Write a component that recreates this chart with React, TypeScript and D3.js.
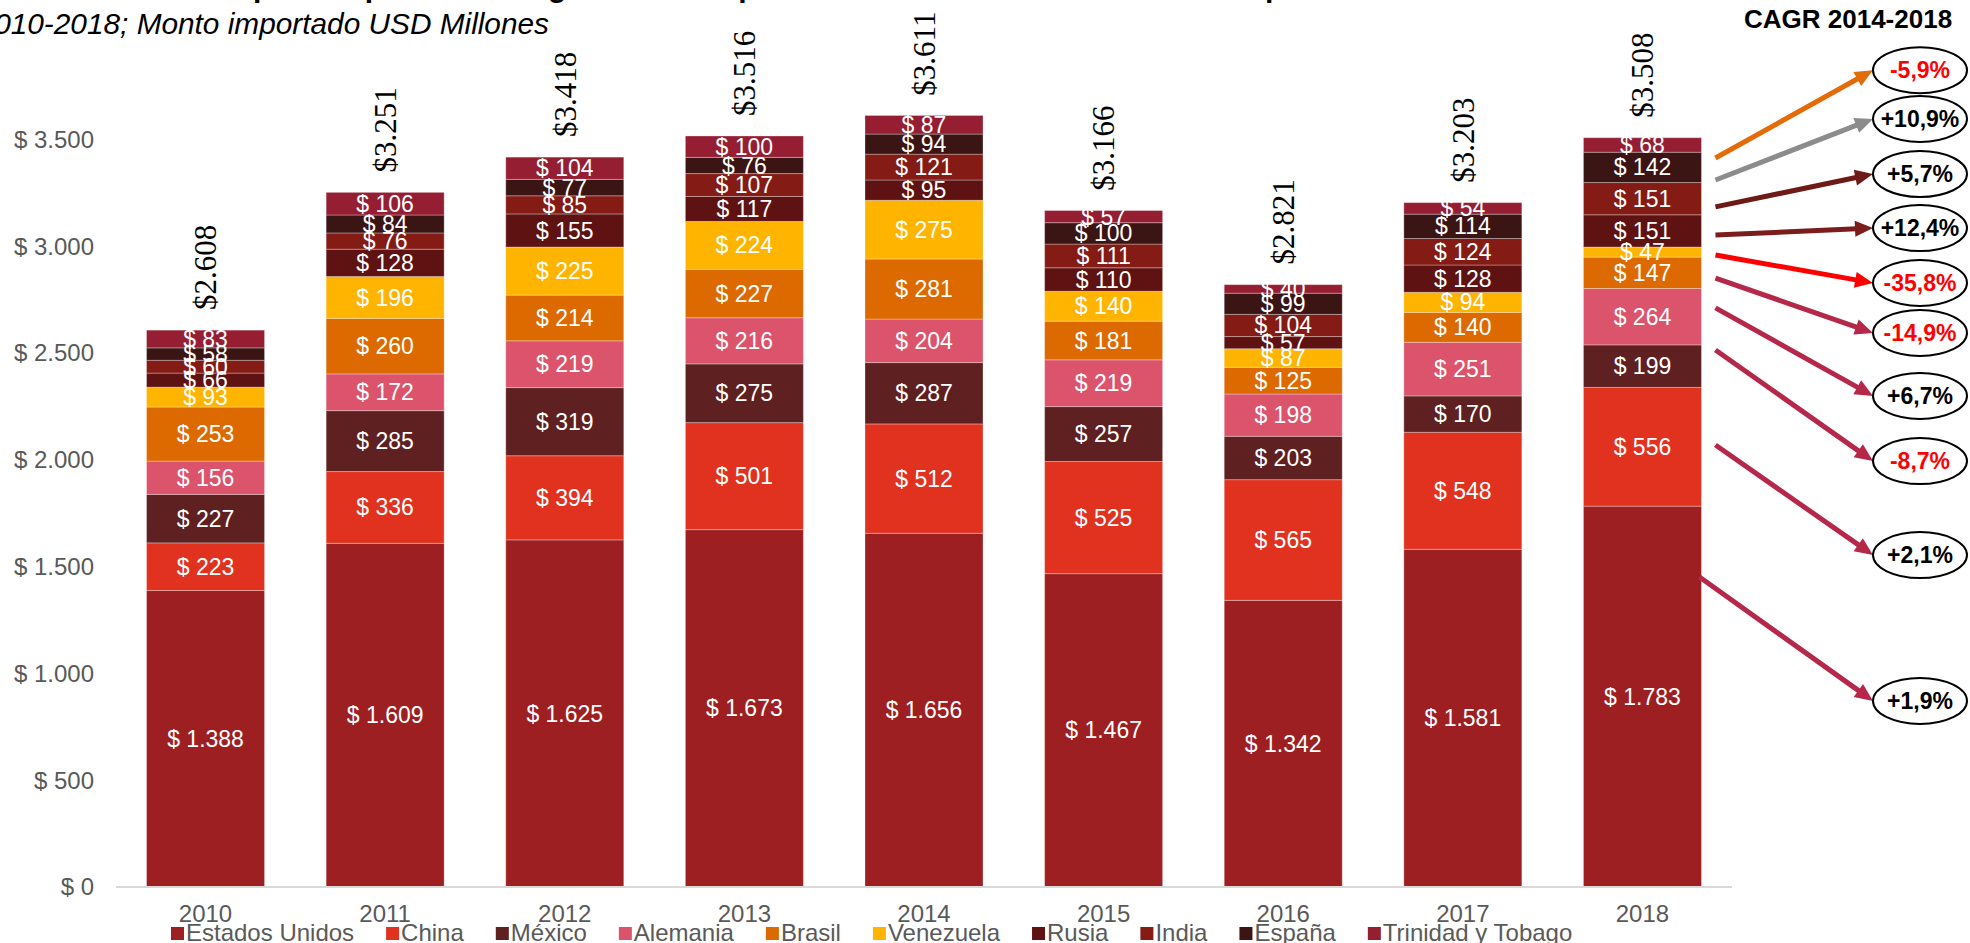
import { useEffect, useRef } from "react";
import * as d3 from "d3";

const years = ["2010", "2011", "2012", "2013", "2014", "2015", "2016", "2017", "2018"];
const countries = [
  "Estados Unidos",
  "China",
  "México",
  "Alemania",
  "Brasil",
  "Venezuela",
  "Rusia",
  "India",
  "España",
  "Trinidad y Tobago",
];

// monto importado, USD millones (de abajo hacia arriba en cada barra)
const estadosUnidos = [1388, 1609, 1625, 1673, 1656, 1467, 1342, 1581, 1783];
const china = [223, 336, 394, 501, 512, 525, 565, 548, 556];
const mexico = [227, 285, 319, 275, 287, 257, 203, 170, 199];
const alemania = [156, 172, 219, 216, 204, 219, 198, 251, 264];
const brasil = [253, 260, 214, 227, 281, 181, 125, 140, 147];
const venezuela = [93, 196, 225, 224, 275, 140, 87, 94, 47];
const rusia = [66, 128, 155, 117, 95, 110, 57, 128, 151];
const india = [60, 76, 85, 107, 121, 111, 104, 124, 151];
const espana = [58, 84, 77, 76, 94, 100, 99, 114, 142];
const trinidad = [83, 106, 104, 100, 87, 57, 40, 54, 68];
const totals = [2608, 3251, 3418, 3516, 3611, 3166, 2821, 3203, 3508];

const yTicks = [0, 500, 1000, 1500, 2000, 2500, 3000, 3500];

// CAGR 2014-2018, de arriba hacia abajo
const cagrLabels = ["-5,9%", "+10,9%", "+5,7%", "+12,4%", "-35,8%", "-14,9%", "+6,7%", "-8,7%", "+2,1%", "+1,9%"];
// where each arrow leaves the 2018 bar and where its bubble sits, in axis units
const cagrFrom = [3413, 3310, 3184, 3052, 2959, 2851, 2711, 2514, 2069, 1451];
const cagrTo = [3824, 3596, 3338, 3085, 2828, 2594, 2299, 1994, 1554, 871];
const cagrArrowColors = [
  "#E36C09", "#8C8C8C", "#6E1A16", "#7B1D1D", "#FF0000",
  "#B5284A", "#B5284A", "#B5284A", "#B5284A", "#B5284A",
];

const colors = [
  "#9E1F21", "#E0321F", "#5E2020", "#DB546C", "#DD6A00",
  "#FFB400", "#5E1212", "#841B15", "#3B1414", "#951E33",
];

const W = 1970;
const H = 943;

const App = () => {
  const ref = useRef<SVGSVGElement>(null);

  useEffect(() => {
    const svg = d3.select(ref.current);
    svg.selectAll("*").remove();

    const series = [estadosUnidos, china, mexico, alemania, brasil, venezuela, rusia, india, espana, trinidad];
    const rows = years.map((y, i) => {
      const r: any = { year: y };
      countries.forEach((c, k) => (r[c] = series[k][i]));
      return r;
    });

    const locale = d3.formatLocale({ decimal: ",", thousands: ".", grouping: [3], currency: ["$", ""] });
    const fmt = locale.format(",d");

    const x = d3.scaleBand().domain(years).range([116, 1732]).paddingInner(0.343).paddingOuter(0.17);
    const y = d3.scaleLinear().domain([0, 3500]).range([887, 139.4]);

    const stack = d3.stack<any>().keys(countries)(rows);

    // title (cut at the top of the slide)
    svg
      .append("text")
      .attr("x", 1370)
      .attr("y", -3)
      .attr("text-anchor", "end")
      .attr("font-size", 30)
      .attr("font-weight", "bold")
      .attr("fill", "#000")
      .text("Evolución del top 10 de países de origen de las importaciones de la cadena del sector químico");

    svg
      .append("text")
      .attr("x", 549)
      .attr("y", 34)
      .attr("text-anchor", "end")
      .attr("font-size", 29.8)
      .attr("font-style", "italic")
      .attr("fill", "#000")
      .text("2010-2018; Monto importado USD Millones");

    // y axis labels
    svg
      .append("g")
      .selectAll("text")
      .data(yTicks)
      .join("text")
      .attr("x", 94)
      .attr("y", (d) => y(d))
      .attr("dy", "0.35em")
      .attr("text-anchor", "end")
      .attr("font-size", 24)
      .attr("fill", "#595959")
      .text((d) => "$ " + fmt(d));

    // bars
    const layers = svg
      .append("g")
      .selectAll("g")
      .data(stack)
      .join("g")
      .attr("fill", (_d, i) => colors[i]);

    layers
      .selectAll("rect")
      .data((d) => d)
      .join("rect")
      .attr("x", (d) => x(d.data.year)!)
      .attr("width", x.bandwidth())
      .attr("y", (d) => y(d[1]))
      .attr("height", (d) => y(d[0]) - y(d[1]))
      .attr("stroke", "#ffffff")
      .attr("stroke-opacity", 0.3)
      .attr("stroke-width", 1);

    // value labels
    const labels = svg.append("g").attr("fill", "#ffffff").attr("font-size", 23).attr("text-anchor", "middle");
    stack.forEach((layer) => {
      layer.forEach((d) => {
        labels
          .append("text")
          .attr("x", x(d.data.year)! + x.bandwidth() / 2)
          .attr("y", (y(d[0]) + y(d[1])) / 2)
          .attr("dy", "0.35em")
          .text("$ " + fmt(d[1] - d[0]));
      });
    });

    // totals, rotated
    svg
      .append("g")
      .selectAll("text")
      .data(totals)
      .join("text")
      .attr("transform", (d, i) => {
        const cx = x(years[i])! + x.bandwidth() / 2;
        return `translate(${cx},${y(d) - 20}) rotate(-90)`;
      })
      .attr("dy", "0.35em")
      .attr("font-family", "'Liberation Serif', 'Times New Roman', serif")
      .attr("font-size", 31)
      .attr("fill", "#000")
      .text((d) => "$" + fmt(d));

    // baseline
    svg
      .append("line")
      .attr("x1", 116)
      .attr("x2", 1732)
      .attr("y1", y(0))
      .attr("y2", y(0))
      .attr("stroke", "#D9D9D9")
      .attr("stroke-width", 2);

    // year labels
    svg
      .append("g")
      .selectAll("text")
      .data(years)
      .join("text")
      .attr("x", (d) => x(d)! + x.bandwidth() / 2)
      .attr("y", 922)
      .attr("text-anchor", "middle")
      .attr("font-size", 24)
      .attr("fill", "#595959")
      .text((d) => d);

    // legend
    const legend = svg.append("g");
    let lx = 171;
    countries.forEach((c, i) => {
      legend.append("rect").attr("x", lx).attr("y", 927).attr("width", 13).attr("height", 13).attr("fill", colors[i]);
      const t = legend
        .append("text")
        .attr("x", lx + 15)
        .attr("y", 941)
        .attr("font-size", 24)
        .attr("fill", "#595959")
        .text(c);
      const w = (t.node() as SVGTextElement).getComputedTextLength();
      lx += 15 + w + 32;
    });

    // CAGR annotations
    svg
      .append("text")
      .attr("x", 1744)
      .attr("y", 28)
      .attr("font-size", 26)
      .attr("font-weight", "bold")
      .attr("fill", "#000")
      .text("CAGR 2014-2018");

    const ex = 1920;
    const rx = 47;
    const ry = 23;
    const x0 = x("2018")! + x.bandwidth() + 14;
    const ann = svg.append("g");
    cagrLabels.forEach((lab, i) => {
      const sx = i === cagrLabels.length - 1 ? x0 - 16 : x0;
      const sy = y(cagrFrom[i]);
      const tx = ex - rx;
      const ty = y(cagrTo[i]);
      const dx = tx - sx;
      const dy = ty - sy;
      const len = Math.hypot(dx, dy);
      const ux = dx / len;
      const uy = dy / len;
      const head = 18;
      const half = 8;
      const bx = tx - ux * head;
      const by = ty - uy * head;
      ann
        .append("line")
        .attr("x1", sx)
        .attr("y1", sy)
        .attr("x2", bx + ux * 2)
        .attr("y2", by + uy * 2)
        .attr("stroke", cagrArrowColors[i])
        .attr("stroke-width", 5);
      ann
        .append("path")
        .attr("d", `M${tx},${ty}L${bx - uy * half},${by + ux * half}L${bx + uy * half},${by - ux * half}Z`)
        .attr("fill", cagrArrowColors[i]);
      ann
        .append("ellipse")
        .attr("cx", ex)
        .attr("cy", ty)
        .attr("rx", rx)
        .attr("ry", ry)
        .attr("fill", "#fff")
        .attr("stroke", "#000")
        .attr("stroke-width", 2);
      ann
        .append("text")
        .attr("x", ex)
        .attr("y", ty)
        .attr("dy", "0.35em")
        .attr("text-anchor", "middle")
        .attr("font-size", 23)
        .attr("font-weight", "bold")
        .attr("fill", lab.startsWith("-") ? "#FF0000" : "#000")
        .text(lab);
    });
  }, []);

  return (
    <svg
      ref={ref}
      width={W}
      height={H}
      style={{ position: "absolute", left: 0, top: 0, fontFamily: "Arial, 'Liberation Sans', sans-serif", background: "#fff" }}
    />
  );
};

export default App;
